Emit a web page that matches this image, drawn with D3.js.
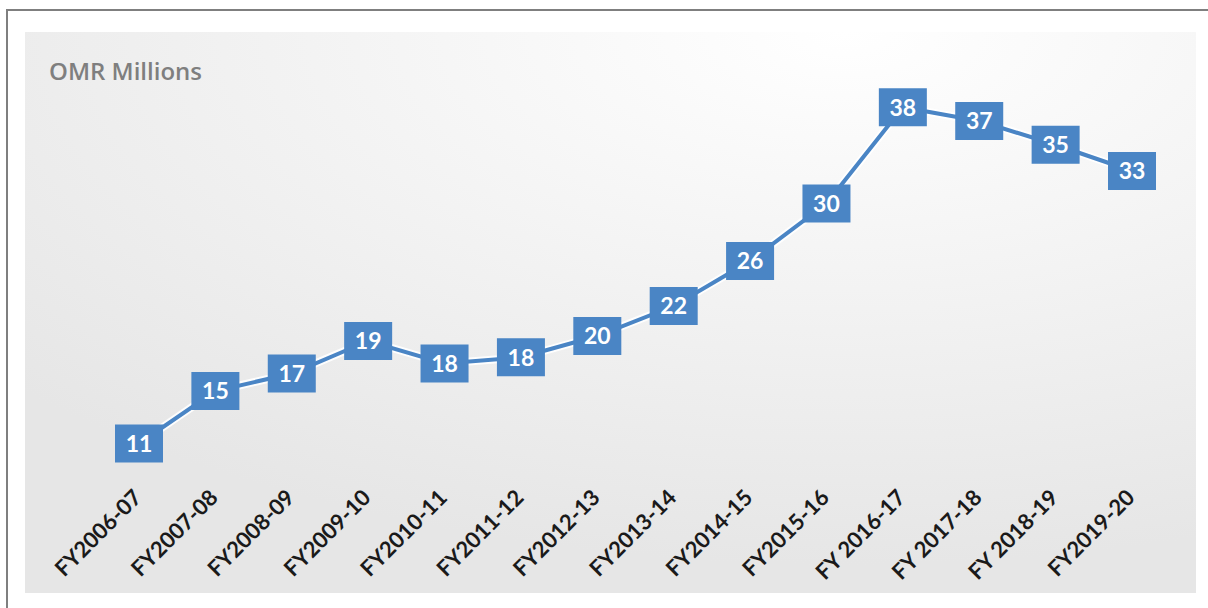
<!DOCTYPE html>
<html>
  <head>
    <meta http-equiv="Content-Type" content="text/html;charset=utf-8"/>
    <style type="text/css">
body { margin: 0; background: #fff; }
svg { display: block; }
.title { font: 600 24px "Open Sans"; fill: #7f7f7f; }
.tick-label { font: 700 22px Lato; fill: #1a1a1a; }
.val-label { font: 700 23px Lato; fill: #fff; }
    </style>
  </head>
  <body>
    <svg></svg>
    <script src="https://cdn.jsdelivr.net/npm/d3@7"></script>
    <script type="text/javascript">

// fiscal years and values (OMR millions)
var years = ["FY2006-07", "FY2007-08", "FY2008-09", "FY2009-10", "FY2010-11",
             "FY2011-12", "FY2012-13", "FY2013-14", "FY2014-15", "FY2015-16",
             "FY 2016-17", "FY 2017-18", "FY 2018-19", "FY2019-20"];
var values = [11.2, 15.4, 16.8, 19.4, 17.6, 18.1, 19.8, 22.2, 25.8, 30.4, 38.1, 37.0, 35.1, 33.0];

var W = 1208, H = 608;

var svg = d3.select("svg")
    .attr("width", W)
    .attr("height", H);

// panel gradient
var defs = svg.append("defs");
var grad = defs.append("radialGradient")
    .attr("id", "bg")
    .attr("cx", 0.7).attr("cy", 0.0).attr("r", 0.95);
grad.append("stop").attr("offset", "0%").attr("stop-color", "#ffffff");
grad.append("stop").attr("offset", "100%").attr("stop-color", "#e6e6e6");

// outer frame
svg.append("path")
    .attr("d", "M7,608 V10 H1208")
    .attr("fill", "none")
    .attr("stroke", "#7f7f7f")
    .attr("stroke-width", 2);

svg.append("rect")
    .attr("x", 25).attr("y", 32)
    .attr("width", 1171).attr("height", 561)
    .attr("fill", "url(#bg)");

svg.append("text")
    .attr("class", "title")
    .attr("x", 49).attr("y", 80)
    .text("OMR Millions");

var x = d3.scalePoint()
    .domain(years)
    .range([139, 1132]);

var y = d3.scaleLinear()
    .domain([0, 40])
    .range([583.5, 83.5]);

var data = years.map((d, i) => ({year: d, val: values[i]}));

// category labels, rotated
svg.append("g")
  .selectAll("text")
    .data(years)
  .enter().append("text")
    .attr("class", "tick-label")
    .attr("text-anchor", "end")
    .attr("transform", d => "translate(" + (x(d) + 4) + ",499) rotate(-45)")
    .text(d => d);

var line = d3.line()
    .x(d => x(d.year))
    .y(d => y(d.val));

// white halo under the line
svg.append("path")
    .attr("d", line(data))
    .attr("fill", "none")
    .attr("stroke", "#fff")
    .attr("stroke-opacity", 0.9)
    .attr("stroke-width", 8);

svg.append("path")
    .attr("d", line(data))
    .attr("fill", "none")
    .attr("stroke", "#4a85c5")
    .attr("stroke-width", 4);

var bw = 48, bh = 38;

var marks = svg.append("g")
  .selectAll("g")
    .data(data)
  .enter().append("g")
    .attr("transform", d => "translate(" + x(d.year) + "," + y(d.val) + ")");

marks.append("rect")
    .attr("x", -bw / 2).attr("y", -bh / 2)
    .attr("width", bw).attr("height", bh)
    .attr("fill", "#4a85c5");

marks.append("text")
    .attr("class", "val-label")
    .attr("text-anchor", "middle")
    .attr("dy", "0.36em")
    .text(d => d3.format(".0f")(d.val));

    </script>
  </body>
</html>
